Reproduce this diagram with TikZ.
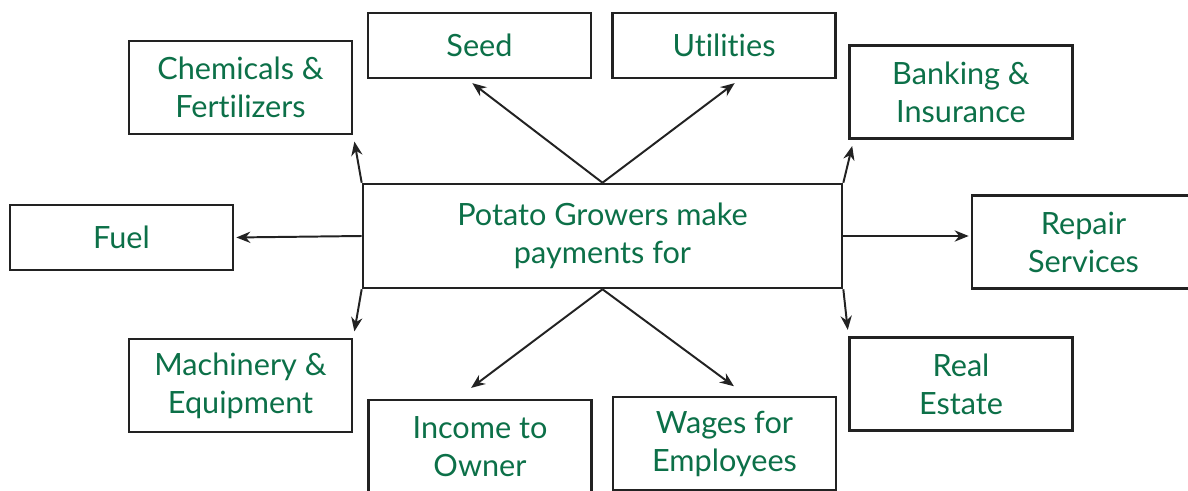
\documentclass[tikz,border=0pt]{standalone}
\usepackage{fontspec}
\setmainfont{Lato}[Ligatures={NoCommon,NoRare}]
\usetikzlibrary{arrows.meta,positioning}
\definecolor{leafgreen}{RGB}{12,112,72}
\definecolor{inkgray}{RGB}{34,34,34}

\begin{document}
\begin{tikzpicture}
    [x=0.025cm,y=-0.025cm,
     every node/.style={rectangle,draw=inkgray,line width=1.8pt,text=leafgreen,
       align=center,inner sep=0pt,font=\fontsize{21.8}{27}\selectfont},
     tallbox/.style={minimum width=5.575cm,minimum height=2.325cm},
     flatbox/.style={minimum width=5.575cm,minimum height=1.625cm},
     pay/.style={draw=inkgray,line width=1.4pt,-{Stealth[length=10pt,width=8pt]},shorten >=0.16cm}]
    \useasboundingbox (0,0) rectangle (1188,491);
    \node[minimum width=11.975cm,minimum height=2.6cm] (hub) at (602.5,236) {Potato Growers make\\payments for};
    \node[tallbox] (chem)   at (240.5,87.5) {Chemicals \&\\Fertilizers};
    \node[flatbox] (seed)   at (479.5,45.5) {Seed};
    \node[flatbox] (utils)  at (724,45.5)   {Utilities};
    \node[tallbox] (bank)   at (961,92)     {Banking \&\\Insurance};
    \node[flatbox] (fuel)   at (121.5,237.5) {Fuel};
    \node[tallbox] (repair) at (1083.5,242) {Repair\\Services};
    \node[tallbox] (mach)   at (240.5,385.5) {Machinery \&\\Equipment};
    \node[tallbox] (income) at (480,446.5)  {Income to\\Owner};
    \node[tallbox] (wages)  at (724.5,443.5) {Wages for\\Employees};
    \node[tallbox] (estate) at (961,384)    {Real\\Estate};
    % arrows out of the central box
    \draw[pay] (hub.north west) -- (chem.south east);
    \draw[pay] (hub.north) -- (seed.250);
    \draw[pay] (hub.north) -- (utils.295);
    \draw[pay] (hub.north east) -- (bank.204);
    \draw[pay,shorten >=0.05cm] (hub.west) -- (fuel.east);
    \draw[pay,shorten >=0.05cm] (hub.east) -- (hub.east -| repair.west);
    \draw[pay] (hub.south west) -- (mach.north east);
    \draw[pay] (hub.south east) -- (estate.157);
    \draw[pay,shorten >=0.45cm] (hub.south) -- (income.116);
    \draw[pay,shorten >=0.4cm] (hub.south) -- (wages.65);
\end{tikzpicture}
\end{document}
